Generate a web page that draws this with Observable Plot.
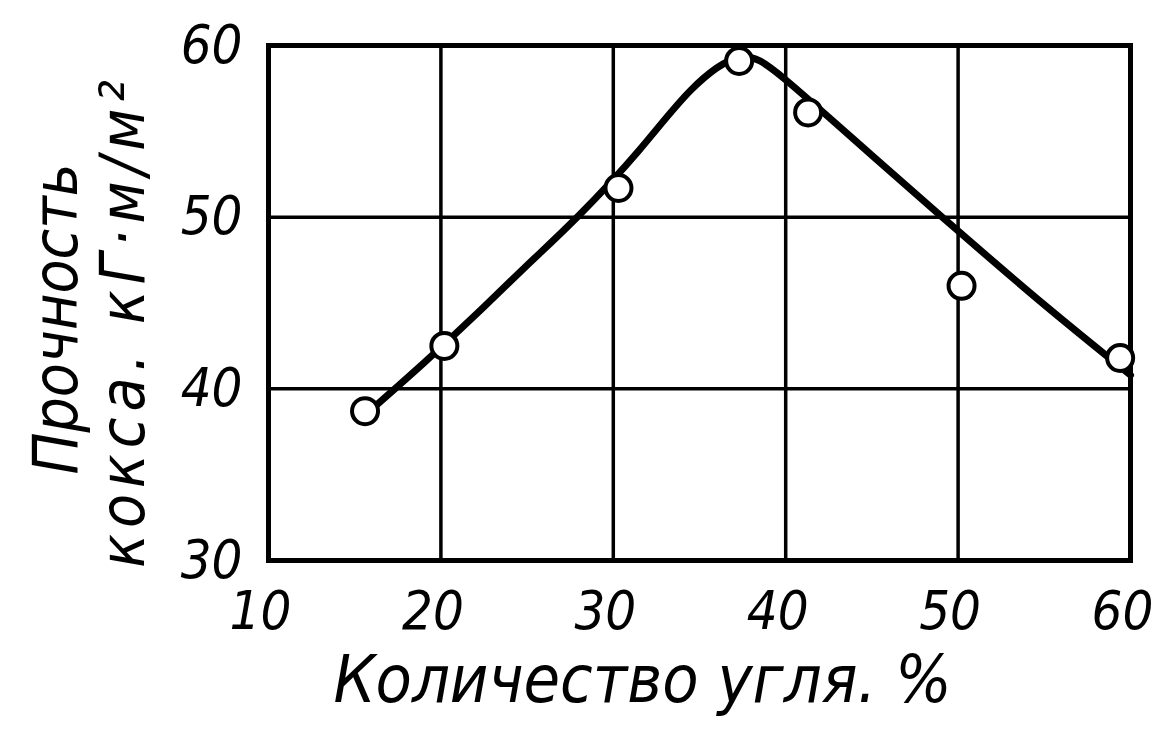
<!DOCTYPE html>
<html>
<head>
<meta charset="utf-8">
<script src="https://cdn.jsdelivr.net/npm/d3@7"></script>
<script src="https://cdn.jsdelivr.net/npm/@observablehq/plot@0.6"></script>
<style>
  html, body { margin: 0; padding: 0; background: #fff; }
  svg text { font-stretch: condensed; }
</style>
</head>
<body>
<div id="chart"></div>
<script>
// Measured points (open circles)
const pointX = [15.6, 20.2, 30.3, 37.3, 41.3, 50.2, 59.4];
const pointY = [38.7, 42.5, 51.7, 59.1, 56.1, 46.0, 41.8];

// Smooth fitted curve
const curveX = [16.2, 19.0, 22.0, 25.0, 28.0, 31.5, 34.5, 37.3, 40.0, 45.0, 50.0, 55.0, 60.0];
const curveY = [39.0, 41.5, 44.3, 47.2, 50.1, 53.9, 57.4, 59.3, 58.0, 53.6, 49.2, 44.9, 40.8];

const xTicks = [10, 20, 30, 40, 50, 60];
const yTicks = [30, 40, 50, 60];

const xLabel = "Количество угля. %";
const yLabel1 = "Прочность";
const yLabel2 = "кокса. кГ·м/м²";

const points = pointX.map((x, i) => ({x, y: pointY[i]}));
const curve = curveX.map((x, i) => ({x, y: curveY[i]}));

const font = '"DejaVu Sans Condensed", "DejaVu Sans", "Liberation Sans", sans-serif';

const chart = Plot.plot({
  width: 1162,
  height: 752,
  marginLeft: 268,
  marginRight: 32,
  marginTop: 45,
  marginBottom: 192,
  style: {background: "#fff", color: "#000", fontFamily: font, fontStyle: "italic"},
  x: {domain: [10, 60]},
  y: {domain: [30, 60]},
  marks: [
    Plot.gridX(xTicks, {stroke: "#000", strokeOpacity: 1, strokeWidth: 3.5}),
    Plot.gridY(yTicks, {stroke: "#000", strokeOpacity: 1, strokeWidth: 3.5}),
    Plot.frame({stroke: "#000", strokeWidth: 5}),
    Plot.axisX(xTicks, {tickSize: 0, tickPadding: 30, fontSize: 54, label: null, dx: -8}),
    Plot.axisY(yTicks, {tickSize: 0, tickPadding: 26, fontSize: 54, label: null}),
    Plot.line(curve, {x: "x", y: "y", curve: "natural", stroke: "#000", strokeWidth: 7}),
    Plot.dot(points, {x: "x", y: "y", r: 13, fill: "#fff", stroke: "#000", strokeWidth: 4}),
    Plot.text([xLabel], {frameAnchor: "bottom", dy: 120, dx: -57, fontSize: 66, text: d => d, lineAnchor: "middle", textAnchor: "middle"}),
    Plot.text([yLabel1], {frameAnchor: "left", dx: -211, dy: 16, rotate: -90, fontSize: 62, text: d => d, lineAnchor: "middle", textAnchor: "middle"}),
    Plot.text([yLabel2], {frameAnchor: "left", dx: -144, dy: 18, rotate: -90, fontSize: 62, text: d => d, lineAnchor: "middle", textAnchor: "middle"})
  ]
});
d3.select(chart).selectAll("text").filter(function() { return this.textContent === yLabel2; })
  .style("letter-spacing", "6px");
document.getElementById("chart").appendChild(chart);
</script>
</body>
</html>
